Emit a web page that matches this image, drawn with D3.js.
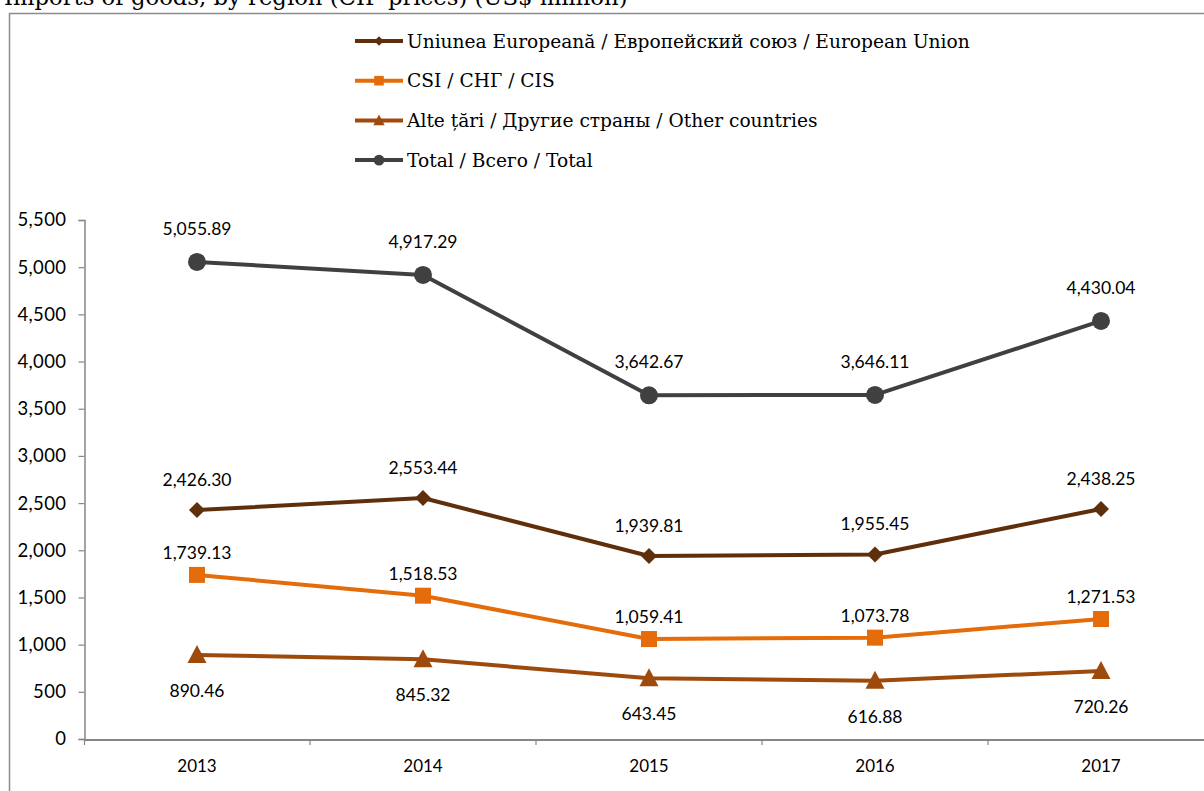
<!DOCTYPE html>
<html><head><meta charset="utf-8">
<script src="https://cdn.jsdelivr.net/npm/d3@7"></script>
<style>body{margin:0;background:#fff}svg{display:block}</style>
</head><body>
<svg id="c" width="1204" height="791"></svg>
<script>
const years = ["2013","2014","2015","2016","2017"];
const euValues = [2426.30, 2553.44, 1939.81, 1955.45, 2438.25];
const cisValues = [1739.13, 1518.53, 1059.41, 1073.78, 1271.53];
const otherValues = [890.46, 845.32, 643.45, 616.88, 720.26];
const totalValues = [5055.89, 4917.29, 3642.67, 3646.11, 4430.04];
const yTicks = [0,500,1000,1500,2000,2500,3000,3500,4000,4500,5000,5500];
const seriesNames = ["Uniunea Europeană / Европейский союз / European Union","CSI / СНГ / CIS","Alte țări / Другие страны / Other countries","Total / Всего / Total"];
const title = "Imports of goods, by region (CIF prices) (US$ million)";

const series = [
  {name: seriesNames[0], values: euValues, color: "#5F2F0C", marker: "diamond", lab: "above"},
  {name: seriesNames[1], values: cisValues, color: "#E46C0A", marker: "square", lab: "above"},
  {name: seriesNames[2], values: otherValues, color: "#9E4A0C", marker: "triangle", lab: "below"},
  {name: seriesNames[3], values: totalValues, color: "#404040", marker: "circle", lab: "above"}
];

const svg = d3.select("#c");
const tt = svg.append("text").attr("x",4).attr("y",5).attr("font-family","DejaVu Serif, serif").attr("font-size",22).attr("fill","#000").text(title);
{ const w = tt.node().getComputedTextLength(); tt.attr("font-size", 22*624/w); }
// frame
svg.append("path").attr("d","M9.5,800 V13.5 H1220").attr("fill","none").attr("stroke","#8c8c8c").attr("stroke-width",1.5);

const x = d3.scaleBand().domain(years).range([84,1214]);
const y = d3.scaleLinear().domain([0,5500]).range([739,220]);

const yAxis = svg.append("g").attr("transform","translate(84.5,0)")
  .call(d3.axisLeft(y).tickValues(yTicks).tickSize(6).tickPadding(12).tickFormat(d3.format(",")));
yAxis.select(".domain").attr("stroke","#868686").attr("stroke-width",1.5);
yAxis.selectAll(".tick line").attr("stroke","#868686").attr("stroke-width",1.2);
yAxis.selectAll("text").attr("font-family","Lato, sans-serif").attr("font-size",18.5).attr("letter-spacing",0.4).attr("fill","#000");

const xAxis = svg.append("g").attr("transform","translate(0,739.5)")
  .call(d3.axisBottom(x).tickSize(0).tickPadding(20));
xAxis.select(".domain").attr("stroke","#868686").attr("stroke-width",2);
xAxis.selectAll("text").attr("font-family","Lato, sans-serif").attr("font-size",17).attr("fill","#000");
// category boundary ticks
svg.append("g").selectAll("line").data(years).join("line")
  .attr("x1",(d,i)=>84+x.step()*(i+1)).attr("x2",(d,i)=>84+x.step()*(i+1))
  .attr("y1",739).attr("y2",745).attr("stroke","#868686").attr("stroke-width",1.2);
svg.append("line").attr("x1",84.5).attr("x2",84.5).attr("y1",739).attr("y2",745).attr("stroke","#868686").attr("stroke-width",1.2);

const cx = d => x(d) + x.bandwidth()/2;
const line = d3.line().x((d,i)=>cx(years[i])).y(d=>y(d));

function marker(g, type, color, s) {
  if (type==="circle") g.append("circle").attr("r",9*s).attr("fill",color);
  else if (type==="square") g.append("rect").attr("x",-8*s).attr("y",-8*s).attr("width",16*s).attr("height",16*s).attr("fill",color);
  else if (type==="diamond") g.append("path").attr("d",`M0,${-8*s}L${8*s},0L0,${8*s}L${-8*s},0Z`).attr("fill",color);
  else if (type==="triangle") g.append("path").attr("d",`M0,${-10*s}L${9.5*s},${8*s}L${-9.5*s},${8*s}Z`).attr("fill",color);
}

const fmt = d3.format(",.2f");
series.forEach(s => {
  svg.append("path").datum(s.values).attr("d",line).attr("fill","none").attr("stroke",s.color).attr("stroke-width",4).attr("stroke-linejoin","round");
  s.values.forEach((v,i) => {
    const g = svg.append("g").attr("transform",`translate(${cx(years[i])},${y(v)})`);
    marker(g, s.marker, s.color, 1);
  });
  svg.append("g").selectAll("text").data(s.values).join("text")
    .attr("x",(d,i)=>cx(years[i]))
    .attr("y",d=> s.lab==="above" ? y(d)-(s.marker==="circle"?27:(s.marker==="square"?16:24)) : y(d)+42)
    .attr("text-anchor","middle").attr("font-family","Lato, sans-serif").attr("font-size",17.5).attr("fill","#000")
    .text(d=>fmt(d));
});

// legend
const leg = svg.append("g");
let legSize = null;
series.forEach((s,i) => {
  const ly = 41 + i*39.7;
  leg.append("line").attr("x1",355).attr("x2",403).attr("y1",ly).attr("y2",ly).attr("stroke",s.color).attr("stroke-width",4);
  const g = leg.append("g").attr("transform",`translate(379,${ly})`);
  marker(g, s.marker, s.color, 0.6);
  const t = leg.append("text").attr("x",407).attr("y",ly+6.5).attr("font-family","DejaVu Serif, serif").attr("font-size",20).attr("fill","#000").text(s.name);
  if (i===0) { const w = t.node().getComputedTextLength(); legSize = 20*563/w; }
  t.attr("font-size", legSize);
});
</script>
</body></html>
